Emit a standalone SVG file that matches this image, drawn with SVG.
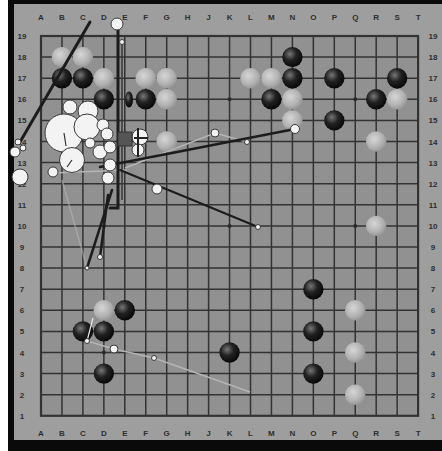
<svg xmlns="http://www.w3.org/2000/svg" width="442" height="451" viewBox="0 0 442 451">
<defs>
<radialGradient id="gb" cx="0.38" cy="0.35" r="0.7">
<stop offset="0" stop-color="#777"/>
<stop offset="0.45" stop-color="#222"/>
<stop offset="1" stop-color="#050505"/>
</radialGradient>
<radialGradient id="gw" cx="0.4" cy="0.38" r="0.7">
<stop offset="0" stop-color="#d6d6d6"/>
<stop offset="0.6" stop-color="#b2b2b2"/>
<stop offset="1" stop-color="#8e8e8e"/>
</radialGradient>
<style>
.lbl{font-family:"Liberation Sans",Arial,sans-serif;font-size:8px;font-weight:bold;fill:#2e2e2e;text-anchor:middle}
.b{fill:url(#gb)}
.w{fill:url(#gw)}
.oc{fill:#f3f3f3;stroke:#3a3a3a;stroke-width:1}
.dk{stroke:#1c1c1c;fill:none;stroke-linecap:round}
.gr{stroke:#b4b4b4;fill:none;stroke-width:1.5}
.dot{fill:#2a2a2a}
</style>
</defs>
<rect x="0" y="0" width="442" height="451" fill="#ffffff"/>
<rect x="8" y="0" width="434" height="451" fill="#0a0a0a"/>
<rect x="14" y="4" width="428" height="436" fill="#9e9e9e"/>
<rect x="41" y="36" width="377" height="380" fill="#919191"/>
<g id="grid" stroke="#333" stroke-width="1.5" fill="none">
<path d="M61.95 36V415.8M82.9 36V415.8M103.85 36V415.8M124.8 36V415.8M145.75 36V415.8M166.7 36V415.8M187.65 36V415.8M208.6 36V415.8M229.55 36V415.8M250.5 36V415.8M271.45 36V415.8M292.4 36V415.8M313.35 36V415.8M334.3 36V415.8M355.25 36V415.8M376.2 36V415.8M397.15 36V415.8"/>
<path d="M41 57.1H418.1M41 78.2H418.1M41 99.3H418.1M41 120.4H418.1M41 141.5H418.1M41 162.6H418.1M41 183.7H418.1M41 204.8H418.1M41 225.9H418.1M41 247H418.1M41 268.1H418.1M41 289.2H418.1M41 310.3H418.1M41 331.4H418.1M41 352.5H418.1M41 373.6H418.1M41 394.7H418.1"/>
<rect x="41" y="36" width="377.1" height="379.8" stroke-width="2.2"/>
</g>
<g id="hoshi">
<circle class="dot" cx="103.85" cy="99.3" r="2"/><circle class="dot" cx="229.55" cy="99.3" r="2"/><circle class="dot" cx="355.25" cy="99.3" r="2"/>
<circle class="dot" cx="103.85" cy="225.9" r="2"/><circle class="dot" cx="229.55" cy="225.9" r="2"/><circle class="dot" cx="355.25" cy="225.9" r="2"/>
<circle class="dot" cx="103.85" cy="352.5" r="2"/><circle class="dot" cx="355.25" cy="352.5" r="2"/>
</g>
<g id="labels">
<g id="cols-top">
<text class="lbl" x="41" y="20">A</text><text class="lbl" x="61.95" y="20">B</text><text class="lbl" x="82.9" y="20">C</text><text class="lbl" x="103.85" y="20">D</text><text class="lbl" x="124.8" y="20">E</text><text class="lbl" x="145.75" y="20">F</text><text class="lbl" x="166.7" y="20">G</text><text class="lbl" x="187.65" y="20">H</text><text class="lbl" x="208.6" y="20">J</text><text class="lbl" x="229.55" y="20">K</text><text class="lbl" x="250.5" y="20">L</text><text class="lbl" x="271.45" y="20">M</text><text class="lbl" x="292.4" y="20">N</text><text class="lbl" x="313.35" y="20">O</text><text class="lbl" x="334.3" y="20">P</text><text class="lbl" x="355.25" y="20">Q</text><text class="lbl" x="376.2" y="20">R</text><text class="lbl" x="397.15" y="20">S</text><text class="lbl" x="418.1" y="20">T</text>
</g>
<g id="cols-bottom">
<text class="lbl" x="41" y="436">A</text><text class="lbl" x="61.95" y="436">B</text><text class="lbl" x="82.9" y="436">C</text><text class="lbl" x="103.85" y="436">D</text><text class="lbl" x="124.8" y="436">E</text><text class="lbl" x="145.75" y="436">F</text><text class="lbl" x="166.7" y="436">G</text><text class="lbl" x="187.65" y="436">H</text><text class="lbl" x="208.6" y="436">J</text><text class="lbl" x="229.55" y="436">K</text><text class="lbl" x="250.5" y="436">L</text><text class="lbl" x="271.45" y="436">M</text><text class="lbl" x="292.4" y="436">N</text><text class="lbl" x="313.35" y="436">O</text><text class="lbl" x="334.3" y="436">P</text><text class="lbl" x="355.25" y="436">Q</text><text class="lbl" x="376.2" y="436">R</text><text class="lbl" x="397.15" y="436">S</text><text class="lbl" x="418.1" y="436">T</text>
</g>
<g id="rows-left">
<text class="lbl" x="22" y="39">19</text><text class="lbl" x="22" y="60.1">18</text><text class="lbl" x="22" y="81.2">17</text><text class="lbl" x="22" y="102.3">16</text><text class="lbl" x="22" y="123.4">15</text><text class="lbl" x="22" y="144.5">14</text><text class="lbl" x="22" y="165.6">13</text><text class="lbl" x="22" y="186.7">12</text><text class="lbl" x="22" y="207.8">11</text><text class="lbl" x="22" y="228.9">10</text><text class="lbl" x="22" y="250">9</text><text class="lbl" x="22" y="271.1">8</text><text class="lbl" x="22" y="292.2">7</text><text class="lbl" x="22" y="313.3">6</text><text class="lbl" x="22" y="334.4">5</text><text class="lbl" x="22" y="355.5">4</text><text class="lbl" x="22" y="376.6">3</text><text class="lbl" x="22" y="397.7">2</text><text class="lbl" x="22" y="418.8">1</text>
</g>
<g id="rows-right">
<text class="lbl" x="433" y="39">19</text><text class="lbl" x="433" y="60.1">18</text><text class="lbl" x="433" y="81.2">17</text><text class="lbl" x="433" y="102.3">16</text><text class="lbl" x="433" y="123.4">15</text><text class="lbl" x="433" y="144.5">14</text><text class="lbl" x="433" y="165.6">13</text><text class="lbl" x="433" y="186.7">12</text><text class="lbl" x="433" y="207.8">11</text><text class="lbl" x="433" y="228.9">10</text><text class="lbl" x="433" y="250">9</text><text class="lbl" x="433" y="271.1">8</text><text class="lbl" x="433" y="292.2">7</text><text class="lbl" x="433" y="313.3">6</text><text class="lbl" x="433" y="334.4">5</text><text class="lbl" x="433" y="355.5">4</text><text class="lbl" x="433" y="376.6">3</text><text class="lbl" x="433" y="397.7">2</text><text class="lbl" x="433" y="418.8">1</text>
</g>
</g>
<g id="stones">
<circle id="B18" class="w" cx="61.95" cy="57.1" r="10.2"/>
<circle id="C18" class="w" cx="82.9" cy="57.1" r="10.2"/>
<circle id="N18" class="b" cx="292.4" cy="57.1" r="10.2"/>
<circle id="B17" class="b" cx="61.95" cy="78.2" r="10.2"/>
<circle id="C17" class="b" cx="82.9" cy="78.2" r="10.2"/>
<circle id="D17" class="w" cx="103.85" cy="78.2" r="10.2"/>
<circle id="F17" class="w" cx="145.75" cy="78.2" r="10.2"/>
<circle id="G17" class="w" cx="166.7" cy="78.2" r="10.2"/>
<circle id="L17" class="w" cx="250.5" cy="78.2" r="10.2"/>
<circle id="M17" class="w" cx="271.45" cy="78.2" r="10.2"/>
<circle id="N17" class="b" cx="292.4" cy="78.2" r="10.2"/>
<circle id="P17" class="b" cx="334.3" cy="78.2" r="10.2"/>
<circle id="S17" class="b" cx="397.15" cy="78.2" r="10.2"/>
<circle id="D16" class="b" cx="103.85" cy="99.3" r="10.2"/>
<ellipse id="E16" class="b" cx="129" cy="99.5" rx="4" ry="8"/>
<circle id="F16" class="b" cx="145.75" cy="99.3" r="10.2"/>
<circle id="G16" class="w" cx="166.7" cy="99.3" r="10.2"/>
<circle id="M16" class="b" cx="271.45" cy="99.3" r="10.2"/>
<circle id="N16" class="w" cx="292.4" cy="99.3" r="10.2"/>
<circle id="R16" class="b" cx="376.2" cy="99.3" r="10.2"/>
<circle id="S16" class="w" cx="397.15" cy="99.3" r="10.2"/>
<circle id="N15" class="w" cx="292.4" cy="120.4" r="10.2"/>
<circle id="P15" class="b" cx="334.3" cy="120.4" r="10.2"/>
<circle id="G14" class="w" cx="166.7" cy="141.5" r="10.2"/>
<circle id="R14" class="w" cx="376.2" cy="141.5" r="10.2"/>
<circle id="R10" class="w" cx="376.2" cy="225.9" r="10.2"/>
<circle id="O7" class="b" cx="313.35" cy="289.2" r="10.2"/>
<circle id="D6" class="w" cx="103.85" cy="310.3" r="10.2"/>
<circle id="E6" class="b" cx="124.8" cy="310.3" r="10.2"/>
<circle id="Q6" class="w" cx="355.25" cy="310.3" r="10.2"/>
<circle id="C5" class="b" cx="82.9" cy="331.4" r="10.2"/>
<circle id="D5" class="b" cx="103.85" cy="331.4" r="10.2"/>
<circle id="O5" class="b" cx="313.35" cy="331.4" r="10.2"/>
<circle id="K4" class="b" cx="229.55" cy="352.5" r="10.2"/>
<circle id="Q4" class="w" cx="355.25" cy="352.5" r="10.2"/>
<circle id="D3" class="b" cx="103.85" cy="373.6" r="10.2"/>
<circle id="O3" class="b" cx="313.35" cy="373.6" r="10.2"/>
<circle id="Q2" class="w" cx="355.25" cy="394.7" r="10.2"/>
</g>
<g id="connectors">
<path class="gr" d="M62 180L87 268" stroke-opacity="0.6"/>
<path class="gr" d="M53 173L127 170"/>
<path class="gr" d="M125 168L215 133L247 142"/>
<path class="gr" d="M87 341L114 349L154 358L250 392"/>
<path d="M87 341L93 318" stroke="#e8e8e8" stroke-width="1.2" fill="none"/>
<path class="dk" d="M90 22L20 142" stroke-width="3"/>
<path class="dk" d="M118 30V208H110" stroke-width="3"/>
<path d="M122 42V200" stroke="#3a3a3a" stroke-width="1.6" fill="none"/>
<path class="dk" d="M100 167L295 129" stroke-width="2.5"/>
<path class="dk" d="M120 170L258 227" stroke-width="2"/>
<path class="dk" d="M112 190L87 268" stroke-width="2.5"/>
<path class="dk" d="M108 195L100 257" stroke-width="2.5"/>
</g>
<g id="overlay">
<circle class="oc" cx="64" cy="133" r="19"/>
<circle class="oc" cx="88" cy="111" r="10"/>
<circle class="oc" cx="70" cy="107" r="7"/>
<circle class="oc" cx="87" cy="127" r="13"/>
<circle class="oc" cx="72" cy="160" r="12.5"/>
<circle class="oc" cx="103" cy="125" r="6"/>
<circle class="oc" cx="107" cy="134" r="6"/>
<circle class="oc" cx="100" cy="152" r="7"/>
<circle class="oc" cx="110" cy="147" r="6"/>
<circle class="oc" cx="110" cy="165" r="6"/>
<circle class="oc" cx="108" cy="178" r="6"/>
<circle class="oc" cx="90" cy="143" r="5" stroke="#777" stroke-width="2"/>
<circle class="oc" cx="53" cy="172" r="5"/>
<circle class="oc" cx="140" cy="137" r="8"/>
<circle class="oc" cx="138" cy="150" r="6"/>
<circle class="oc" cx="20" cy="177" r="8"/>
<circle class="oc" cx="15" cy="152" r="5"/>
<circle class="oc" cx="23" cy="148" r="3"/>
<circle class="oc" cx="18" cy="142" r="3"/>
<circle class="oc" cx="117" cy="24" r="6" stroke="#888"/>
<circle class="oc" cx="122" cy="42" r="2.5"/>
<circle class="oc" cx="157" cy="189" r="5"/>
<circle class="oc" cx="215" cy="133" r="4"/>
<circle class="oc" cx="295" cy="129" r="4.5"/>
<circle class="oc" cx="247" cy="142" r="2.5"/>
<circle class="oc" cx="258" cy="227" r="2.5"/>
<circle class="oc" cx="87" cy="268" r="2"/>
<circle class="oc" cx="100" cy="257" r="2.5"/>
<circle class="oc" cx="87" cy="341" r="2.5"/>
<circle class="oc" cx="114" cy="349" r="4" stroke="#777" stroke-width="1.6"/>
<circle class="oc" cx="154" cy="358" r="2.5"/>
<rect x="118" y="132" width="14" height="14" fill="#555" stroke="#333"/>
<path d="M138 128V157M134 138H148" stroke="#222" stroke-width="2" fill="none"/>
<path d="M64 133L66 146M72 160L67 167" stroke="#333" stroke-width="1.2" fill="none"/>
</g>
</svg>
